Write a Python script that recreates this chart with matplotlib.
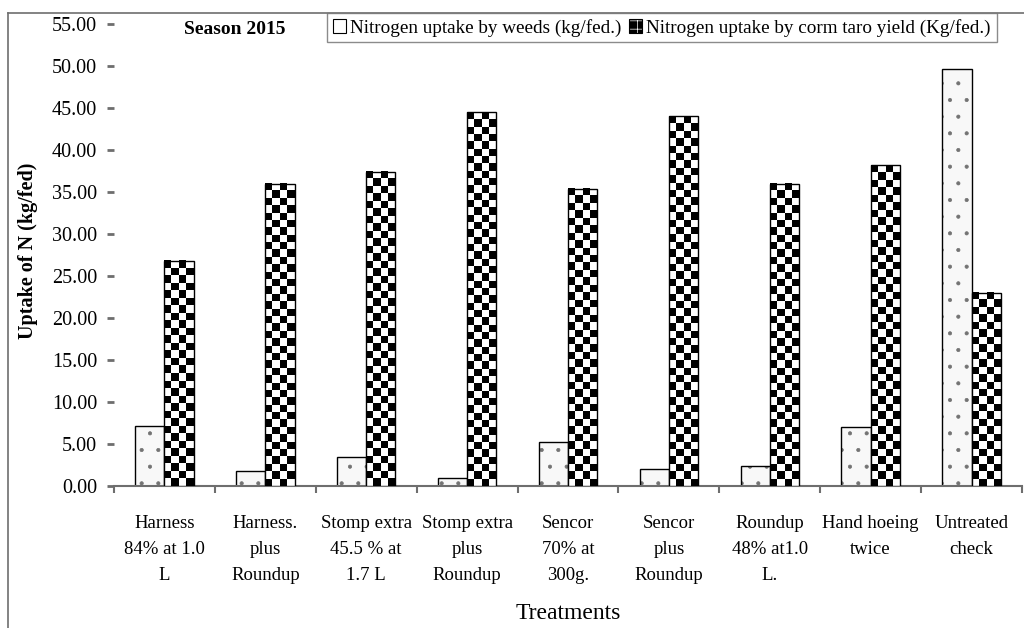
import numpy as np
import matplotlib
matplotlib.use("Agg")
import matplotlib.pyplot as plt
from matplotlib.patches import Patch
from matplotlib.lines import Line2D

plt.rcParams['font.family'] = ['Liberation Serif', 'DejaVu Serif']
plt.rcParams['hatch.linewidth'] = 0.5

# Datos
tratamientos = ["Harness\n84% at 1.0\nL", "Harness.\nplus\nRoundup",
                "Stomp extra\n45.5 % at\n1.7 L", "Stomp extra\nplus\nRoundup",
                "Sencor\n70% at\n300g.", "Sencor\nplus\nRoundup",
                "Roundup\n48% at1.0\nL.", "Hand hoeing\ntwice", "Untreated\ncheck"]
n_malezas = [7.2, 1.8, 3.5, 0.9, 5.2, 2.0, 2.4, 7.0, 49.6]
n_taro = [26.8, 36.0, 37.4, 44.5, 35.4, 44.0, 36.0, 38.2, 23.0]
etiquetas_y = ["%.2f" % v for v in np.arange(0, 56, 5)]
leyenda = ["Nitrogen uptake by weeds (kg/fed.)",
           "Nitrogen uptake by corm taro yield (Kg/fed.)"]

fig = plt.figure(figsize=(10.24, 6.28), dpi=100)
ax = fig.add_axes([114/1024, 1-486/628, 908/1024, 462/628])

x = np.arange(len(tratamientos))
ancho = 0.29
gris = '#6e6e6e'

b1 = ax.bar(x - ancho/2, n_malezas, ancho, facecolor='#f8f8f8', edgecolor='black',
            linewidth=1.0, hatch='.', zorder=2)
for r in b1:
    r._hatch_color = (0.45, 0.45, 0.45, 1.0)

b2 = ax.bar(x + ancho/2, n_taro, ancho, facecolor='white', edgecolor='none', zorder=2)
# patron de tablero de ajedrez dentro de cada barra
for r in b2:
    x0, w, h = r.get_x(), r.get_width(), r.get_height()
    filas = max(1, int(round(h / 0.88)))
    tablero = np.add.outer(np.arange(filas), np.arange(4)) % 2
    ax.imshow(tablero, extent=(x0, x0 + w, 0, h), cmap='gray', vmin=0, vmax=1,
              interpolation='nearest', aspect='auto', zorder=3)
ax.bar(x + ancho/2, n_taro, ancho, facecolor='none', edgecolor='black',
       linewidth=1.0, zorder=4)

ax.set_xlim(-0.5, len(tratamientos) - 0.5)
ax.set_ylim(0, 55)
ax.set_yticks(np.arange(0, 56, 5))
ax.set_yticklabels(etiquetas_y, fontsize=14.5)
ax.set_xticks(x)
ax.set_xticklabels(tratamientos, fontsize=13.5, linespacing=1.7)
ax.set_xticks(np.arange(-0.5, len(tratamientos)), minor=True)
ax.tick_params(axis='x', which='major', length=0, pad=21)
ax.tick_params(axis='x', which='minor', length=5, width=1.5, color=gris, direction='out')
ax.tick_params(axis='y', length=5, width=2, color=gris, pad=7)

for s in ['top', 'right', 'left']:
    ax.spines[s].set_visible(False)
ax.spines['bottom'].set_color(gris)
ax.spines['bottom'].set_linewidth(1.5)

ax.set_ylabel("Uptake of N (kg/fed)", fontsize=14.5, fontweight='bold')
ax.yaxis.set_label_coords(-0.084, 0.51)
ax.set_xlabel("Treatments", fontsize=17)
ax.xaxis.set_label_coords(0.5, -0.275)
ax.xaxis.label.set_va('center')

fig.text(0.2295, 1 - 30/628, "Season 2015", fontsize=14, fontweight='bold',
         ha='center', va='center')

manejadores = [Patch(facecolor='white', edgecolor='black', linewidth=0.8),
               Patch(facecolor='black', edgecolor='black', linewidth=0.8, hatch='++')]
leg = fig.legend(manejadores, leyenda, loc='upper left',
                 bbox_to_anchor=(327/1024, 1 - 13/628), ncol=2, fontsize=13.8,
                 frameon=True, fancybox=False, borderaxespad=0, borderpad=0.3,
                 handlelength=0.7, handleheight=0.7, handletextpad=0.2,
                 columnspacing=0.4)
leg.get_frame().set_edgecolor(gris)
leg.get_frame().set_linewidth(1.0)
leg.legend_handles[1]._hatch_color = (1, 1, 1, 1)

# marco exterior
fig.add_artist(Line2D([8/1024, 1], [1 - 13/628, 1 - 13/628], color=gris, lw=1.2))
fig.add_artist(Line2D([8/1024, 8/1024], [0, 1 - 13/628], color=gris, lw=1.2))

fig.savefig("out.png", dpi=100)
